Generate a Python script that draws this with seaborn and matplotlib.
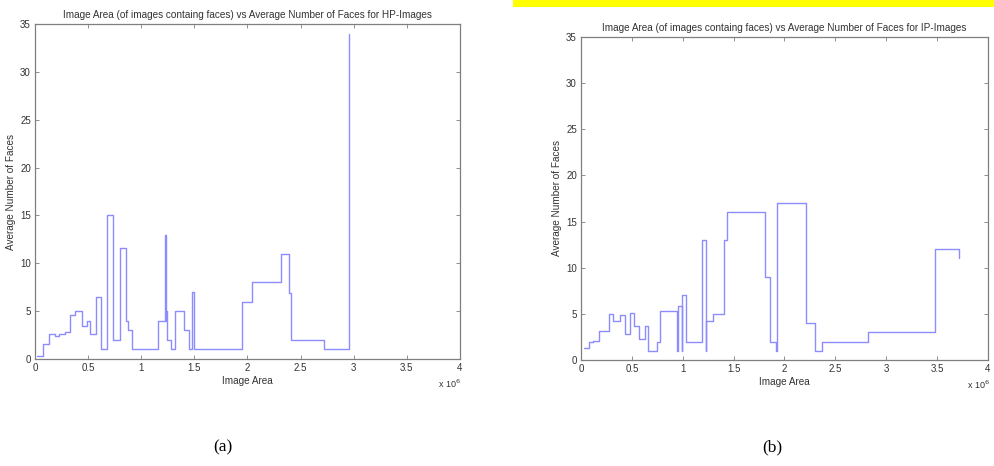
import matplotlib
matplotlib.use("Agg")
import matplotlib.pyplot as plt
import seaborn as sns
import pandas as pd
from matplotlib.patches import Rectangle

# ---- data (image area in units of 10^6 pixels, average faces) ----
hp_area = [0.02, 0.08, 0.13, 0.19, 0.23, 0.28, 0.33, 0.38, 0.44, 0.49, 0.52, 0.57,
           0.62, 0.68, 0.735, 0.80, 0.86, 0.872, 0.91, 1.16, 1.227, 1.229, 1.233,
           1.245, 1.28, 1.32, 1.40, 1.45, 1.475, 1.50, 1.95, 2.04, 2.32, 2.39,
           2.41, 2.72, 2.96]
hp_faces = [0.3, 1.6, 2.65, 2.4, 2.65, 2.85, 4.6, 5.0, 3.4, 4.0, 2.6, 6.5,
            1.0, 15.0, 2.0, 11.6, 4.0, 3.0, 1.0, 4.0, 13.0, 4.0, 5.0,
            2.0, 1.0, 5.0, 3.0, 1.0, 7.0, 1.0, 6.0, 8.0, 11.0, 6.9,
            2.0, 1.0, 34.0]

ip_area = [0.026, 0.074, 0.12, 0.18, 0.28, 0.31, 0.38, 0.43, 0.485, 0.52, 0.57,
           0.625, 0.66, 0.75, 0.78, 0.948, 0.955, 0.99, 0.996, 1.03, 1.19, 1.225,
           1.228, 1.30, 1.41, 1.435, 1.81, 1.86, 1.918, 1.922, 1.93, 2.21, 2.30,
           2.37, 2.82, 3.48, 3.715]
ip_faces = [1.26, 2.0, 2.1, 3.1, 5.0, 4.2, 4.9, 2.8, 5.05, 3.65, 2.3,
            3.7, 1.0, 2.0, 5.35, 1.0, 5.9, 1.0, 7.0, 2.0, 13.0, 1.0,
            4.2, 5.0, 13.0, 16.05, 9.0, 2.0, 1.0, 9.0, 17.05, 4.0, 1.0,
            2.0, 3.0, 12.0, 11.0]

x_ticks = [0, 0.5, 1, 1.5, 2, 2.5, 3, 3.5, 4]
x_tick_labels = ["0", "0.5", "1", "1.5", "2", "2.5", "3", "3.5", "4"]
y_ticks = [0, 5, 10, 15, 20, 25, 30, 35]

titles = ["Image Area (of images containg faces) vs Average Number of Faces for HP-Images",
          "Image Area (of images containg faces) vs Average Number of Faces for IP-Images"]
captions = ["(a)", "(b)"]

sns.set_theme(style="white")
plt.rcParams['font.family'] = ['Liberation Sans', 'DejaVu Sans']

fig = plt.figure(figsize=(9.95, 4.66), dpi=100)
W, H = 995, 466

def ax_rect(l, t, r, b):
    return [l / W, (H - b) / H, (r - l) / W, (b - t) / H]

axes = [fig.add_axes(ax_rect(35, 24, 460, 359)),
        fig.add_axes(ax_rect(581, 37, 988, 360))]

datasets = [(hp_area, hp_faces), (ip_area, ip_faces)]
line_color = "#8c8cff"
grey = "#7f7f7f"
txt = "#333333"

for ax, (xs, ys), title in zip(axes, datasets, titles):
    df = pd.DataFrame({"area": xs, "faces": ys})
    sns.lineplot(data=df, x="area", y="faces", ax=ax, estimator=None, sort=False,
                 drawstyle="steps-post", color=line_color, linewidth=1.0)
    ax.set_xlim(0, 4)
    ax.set_ylim(0, 35)
    ax.set_xticks(x_ticks)
    ax.set_xticklabels(x_tick_labels)
    ax.set_yticks(y_ticks)
    ax.tick_params(direction="in", length=3, width=0.6, colors=grey,
                   labelcolor=txt, labelsize=7, top=True, right=True,
                   bottom=True, left=True, pad=3)
    for s in ax.spines.values():
        s.set_color(grey)
        s.set_linewidth(0.9)
    ax.set_title(title, fontsize=7.2, color=txt, pad=4)
    ax.set_xlabel("Image Area", fontsize=7.2, color=txt, labelpad=2)
    ax.set_ylabel("Average Number of Faces", fontsize=7.2, color=txt, labelpad=3)
    bbox_h = ax.get_position().height * H
    ax.text(0.948, -25 / bbox_h, r"x 10$^6$", transform=ax.transAxes, fontsize=6.5,
            color=txt, ha="left", va="center")

fig.text(223 / W, 1 - 447 / H, captions[0], fontsize=12.5, family="Liberation Serif",
         ha="center", va="center", color="black")
fig.text(772 / W, 1 - 447 / H, captions[1], fontsize=12.5, family="Liberation Serif",
         ha="center", va="center", color="black")

fig.patches.append(Rectangle((513 / W, 1 - 7 / H), (995 - 513) / W, 7 / H,
                             transform=fig.transFigure, facecolor="#ffff00",
                             edgecolor="none"))

fig.savefig("out.png", dpi=100)
